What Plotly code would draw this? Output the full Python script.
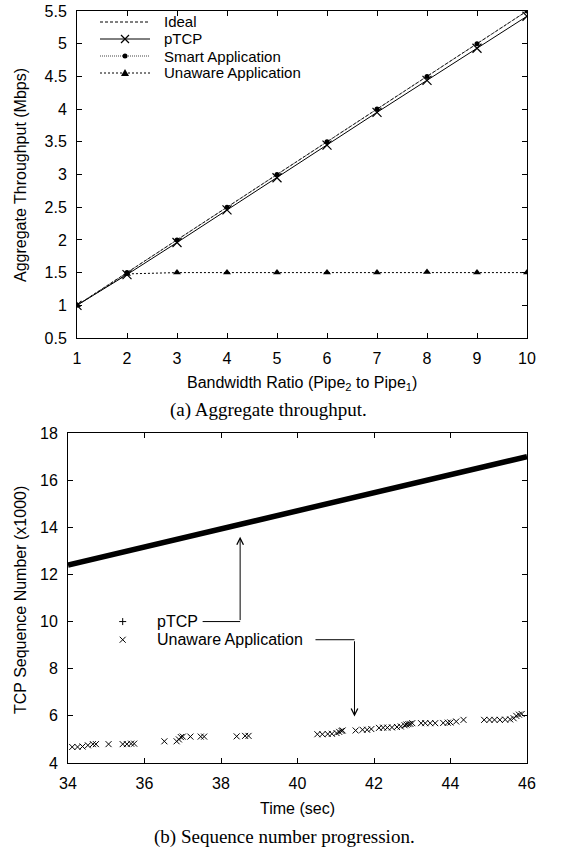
import plotly.graph_objects as go

# ---- (a) aggregate throughput vs bandwidth ratio ----
ratio = [1, 2, 3, 4, 5, 6, 7, 8, 9, 10]
ideal = [1.0, 1.5, 2.0, 2.5, 3.0, 3.5, 4.0, 4.5, 5.0, 5.5]
ptcp_tput = [1.0, 1.47, 1.96, 2.46, 2.95, 3.45, 3.95, 4.44, 4.93, 5.42]
smart_tput = [1.0, 1.5, 2.0, 2.5, 3.0, 3.5, 4.0, 4.5, 5.0, 5.5]
unaware_tput = [1.0, 1.48, 1.5, 1.5, 1.5, 1.5, 1.5, 1.51, 1.5, 1.5]
tput_names = ["Ideal", "pTCP", "Smart Application", "Unaware Application"]

# ---- (b) sequence number progression ----
ptcp_time = [34.0, 46.0]
ptcp_seq = [12.4, 17.0]
unaware_time = [34.11, 34.25, 34.38, 34.52, 34.65, 34.73, 35.06, 35.43, 35.54, 35.65,
                35.73, 36.52, 36.84, 36.9, 36.95, 37.0, 37.2, 37.47, 37.56, 38.41,
                38.63, 38.72, 40.52, 40.65, 40.79, 40.9, 41.02, 41.09, 41.15, 41.18,
                41.52, 41.7, 41.82, 41.93, 42.13, 42.24, 42.35, 42.47, 42.6, 42.7,
                42.8, 42.85, 42.9, 42.95, 43.0, 43.23, 43.34, 43.47, 43.6, 43.81,
                43.93, 44.0, 44.15, 44.34, 44.88, 45.02, 45.15, 45.29, 45.43, 45.56,
                45.65, 45.72, 45.79, 45.86]
unaware_seq = [4.68, 4.68, 4.70, 4.75, 4.80, 4.80, 4.80, 4.80, 4.80, 4.82,
               4.82, 4.92, 4.92, 5.0, 5.1, 5.12, 5.12, 5.12, 5.12, 5.13,
               5.15, 5.15, 5.22, 5.22, 5.23, 5.24, 5.27, 5.32, 5.36, 5.38,
               5.38, 5.41, 5.41, 5.44, 5.49, 5.5, 5.5, 5.51, 5.53, 5.55,
               5.6, 5.63, 5.65, 5.66, 5.69, 5.69, 5.69, 5.69, 5.69, 5.70,
               5.71, 5.72, 5.76, 5.83, 5.83, 5.83, 5.83, 5.83, 5.84, 5.85,
               5.9, 6.0, 6.05, 6.08]
seq_names = ["pTCP", "Unaware Application"]

W, H = 568, 849
SANS = "Liberation Sans, Arial, sans-serif"
SERIF = "Liberation Serif, Times New Roman, serif"
FS = 16


def px_x(p):
    return p / W


def px_y(p):
    return 1 - p / H


IDEAL_LINE = dict(color="black", width=1, dash="3px,2px")
PTCP_LINE = dict(color="black", width=1)
SMART_LINE = dict(color="#444", width=1, dash="1px,1px")
UNAWARE_LINE = dict(color="black", width=1, dash="2px,2px")

fig = go.Figure()

fig.add_trace(go.Scatter(x=ratio, y=ideal, name=tput_names[0], mode="lines",
                         line=IDEAL_LINE))
fig.add_trace(go.Scatter(x=ratio, y=ptcp_tput, name=tput_names[1], mode="lines+markers",
                         line=PTCP_LINE,
                         marker=dict(symbol="x-thin", size=9,
                                     line=dict(color="black", width=1.2))))
fig.add_trace(go.Scatter(x=ratio, y=smart_tput, name=tput_names[2],
                         mode="lines+markers", line=SMART_LINE,
                         marker=dict(symbol="circle", size=5, color="black")))
fig.add_trace(go.Scatter(x=ratio, y=unaware_tput, name=tput_names[3],
                         mode="lines+markers", line=UNAWARE_LINE,
                         marker=dict(symbol="triangle-up", size=7, color="black")))

fig.add_trace(go.Scatter(x=ptcp_time, y=ptcp_seq, name=seq_names[0], mode="lines",
                         line=dict(color="black", width=5.5),
                         xaxis="x2", yaxis="y2"))
fig.add_trace(go.Scatter(x=unaware_time, y=unaware_seq, name=seq_names[1],
                         mode="markers",
                         marker=dict(symbol="x-thin", size=6,
                                     line=dict(color="black", width=1)),
                         xaxis="x2", yaxis="y2"))

axis_common = dict(showline=True, linecolor="black", linewidth=1, mirror="allticks",
                   ticks="inside", ticklen=5, tickcolor="black", showgrid=False,
                   zeroline=False, automargin=False,
                   tickfont=dict(family=SANS, size=FS, color="black"))

fig.update_layout(
    width=W, height=H,
    margin=dict(l=0, r=0, t=0, b=0),
    paper_bgcolor="white", plot_bgcolor="white",
    showlegend=False,
    xaxis=dict(domain=[px_x(77), px_x(527)], range=[1, 10], tickvals=ratio,
               anchor="y", ticklabelstandoff=6, **axis_common),
    yaxis=dict(domain=[px_y(338), px_y(11)], range=[0.5, 5.5], dtick=0.5,
               anchor="x", ticklabelstandoff=6, **axis_common),
    xaxis2=dict(domain=[px_x(68), px_x(527)], range=[34, 46], dtick=2,
                anchor="y2", ticklabelstandoff=6, **axis_common),
    yaxis2=dict(domain=[px_y(763), px_y(433)], range=[4, 18], dtick=2,
                anchor="x2", ticklabelstandoff=6, **axis_common),
)

# axis titles
annotations = [
    dict(text="Aggregate Throughput (Mbps)", x=px_x(20), y=px_y(175), textangle=-90),
    dict(text="Bandwidth Ratio (Pipe<sub>2</sub> to Pipe<sub>1</sub>)",
         x=px_x(302), y=px_y(383)),
    dict(text="TCP Sequence Number (x1000)", x=px_x(20), y=px_y(600), textangle=-90),
    dict(text="Time (sec)", x=px_x(297), y=px_y(808)),
]
for a in annotations:
    fig.add_annotation(xref="paper", yref="paper", showarrow=False,
                       xanchor="center", yanchor="middle",
                       font=dict(family=SANS, size=FS, color="black"), **a)

# sub-figure captions
for text, xc, yc in [("(a) Aggregate throughput.", 268, 410),
                     ("(b) Sequence number progression.", 284, 837)]:
    fig.add_annotation(xref="paper", yref="paper", showarrow=False, text=text,
                       x=px_x(xc), y=px_y(yc), xanchor="center", yanchor="middle",
                       font=dict(family=SERIF, size=19, color="black"))

# ---- key for panel (a): line sample, point symbol, label ----
KEY_X0, KEY_X1, KEY_TEXT = 100, 150, 162
key_rows = [22, 39, 56, 73]
key_lines = [IDEAL_LINE, PTCP_LINE, SMART_LINE, UNAWARE_LINE]
key_marks = [
    None,
    dict(type="path", path="M-4,-4 L4,4 M-4,4 L4,-4",
         line=dict(color="black", width=1.2)),
    dict(type="circle", x0=-2.5, x1=2.5, y0=-2.5, y1=2.5, fillcolor="black",
         line=dict(color="black", width=0)),
    dict(type="path", path="M-4,-3 L4,-3 L0,4 Z", fillcolor="black",
         line=dict(color="black", width=0)),
]
for name, row, ln, mk in zip(tput_names, key_rows, key_lines, key_marks):
    yp = px_y(row)
    fig.add_shape(type="line", xref="paper", yref="paper",
                  x0=px_x(KEY_X0), x1=px_x(KEY_X1), y0=yp, y1=yp, line=ln)
    if mk is not None:
        fig.add_shape(xref="paper", yref="paper", xsizemode="pixel", ysizemode="pixel",
                      xanchor=px_x((KEY_X0 + KEY_X1) / 2), yanchor=yp, **mk)
    fig.add_annotation(xref="paper", yref="paper", showarrow=False, text=name,
                       x=px_x(KEY_TEXT), y=yp, xanchor="left", yanchor="middle",
                       font=dict(family=SANS, size=15, color="black"))

# ---- key for panel (b), with leader arrows to the data they name ----
seq_key_y = [10.0, 9.23]
seq_key_marks = [
    dict(type="path", path="M-3.5,0 L3.5,0 M0,-3.5 L0,3.5",
         line=dict(color="black", width=1)),
    dict(type="path", path="M-3,-3 L3,3 M-3,3 L3,-3",
         line=dict(color="black", width=1)),
]
for name, yk, mk in zip(seq_names, seq_key_y, seq_key_marks):
    fig.add_shape(xref="x2", yref="y2", xsizemode="pixel", ysizemode="pixel",
                  xanchor=35.43, yanchor=yk, **mk)
    fig.add_annotation(xref="x2", yref="y2", showarrow=False, text=name,
                       x=36.27, y=yk, xanchor="left", yanchor="middle",
                       font=dict(family=SANS, size=FS, color="black"))

leaders = [(37.52, 38.5, 10.0, 13.6), (40.47, 41.49, 9.23, 5.97)]
for x_start, x_turn, y_key, y_tip in leaders:
    fig.add_shape(type="line", xref="x2", yref="y2", x0=x_start, x1=x_turn,
                  y0=y_key, y1=y_key, line=dict(color="black", width=1))
    fig.add_annotation(xref="x2", yref="y2", axref="x2", ayref="y2",
                       x=x_turn, y=y_tip, ax=x_turn, ay=y_key, showarrow=True,
                       arrowhead=5, arrowsize=1.3, arrowwidth=1, arrowcolor="black",
                       standoff=0, startstandoff=0, text="")

fig.write_html("out.html")
